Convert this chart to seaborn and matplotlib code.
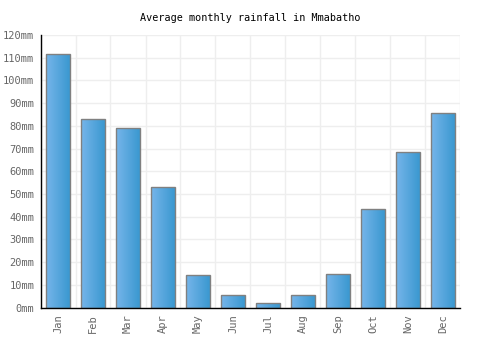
import numpy as np
import pandas as pd
import seaborn as sns
import matplotlib.pyplot as plt
from matplotlib.colors import LinearSegmentedColormap
from matplotlib.ticker import FixedLocator, FuncFormatter

months = ["Jan", "Feb", "Mar", "Apr", "May", "Jun",
          "Jul", "Aug", "Sep", "Oct", "Nov", "Dec"]
rainfall = [111.5, 83, 79, 53, 14.2, 5.4, 2.2, 5.4, 15, 43.6, 68.3, 85.6]

df = pd.DataFrame({"month": months, "rain": rainfall})

sns.set_style("white")
plt.rcParams["font.family"] = ["DejaVu Sans Mono"]

fig = plt.figure(figsize=(5, 3.5), dpi=100)
ax = fig.add_axes([0.081, 0.121, 0.84, 0.779])

sns.barplot(data=df, x="month", y="rain", color="#55a6de", width=0.67,
            edgecolor="#808080", linewidth=1, ax=ax, zorder=3)

# horizontal gradient inside each bar
cmap = LinearSegmentedColormap.from_list("bar", ["#76b5ea", "#3a98d0"])
grad = np.linspace(0, 1, 64).reshape(1, -1)
for p in ax.patches:
    x0, y0 = p.get_x(), p.get_y()
    w, h = p.get_width(), p.get_height()
    im = ax.imshow(grad, cmap=cmap, aspect="auto", extent=(x0, x0 + w, y0, y0 + h),
                   zorder=3.5, interpolation="bilinear")
    im.set_clip_path(p)
    p.set_facecolor("none")
    p.set_zorder(4)

ax.set_xlim(-0.5, 11.5)
ax.set_ylim(0, 120)
ax.set_yticks(np.arange(0, 121, 10))
ax.yaxis.set_major_formatter(FuncFormatter(lambda v, _: f"{int(v)}mm"))
ax.xaxis.set_minor_locator(FixedLocator(np.arange(-0.5, 12, 1)))
ax.grid(True, axis="y", color="#eeeeee", linewidth=1, zorder=0)
ax.grid(True, axis="x", which="minor", color="#eeeeee", linewidth=1, zorder=0)
ax.set_axisbelow(True)

ax.tick_params(axis="x", rotation=90, labelsize=7.5, labelcolor="#666666",
               length=0, pad=4.5)
ax.tick_params(axis="x", which="minor", length=0)
ax.tick_params(axis="y", labelsize=7.5, labelcolor="#666666", length=0, pad=4.5)
ax.set_xlabel("")
ax.set_ylabel("")

for s in ["top", "right"]:
    ax.spines[s].set_visible(False)
for s in ["left", "bottom"]:
    ax.spines[s].set_color("black")
    ax.spines[s].set_linewidth(1)
    ax.spines[s].set_zorder(5)

fig.text(0.5, 0.948, "Average monthly rainfall in Mmabatho", ha="center",
         va="center", fontsize=7.3, color="black")

fig.savefig("out.png", dpi=100)
